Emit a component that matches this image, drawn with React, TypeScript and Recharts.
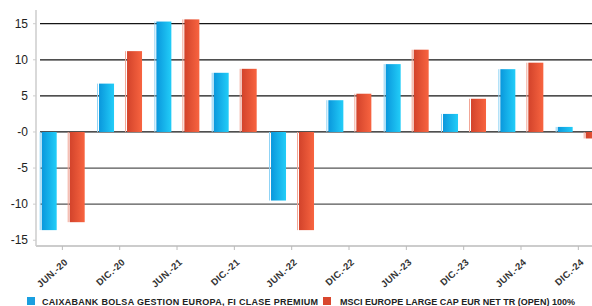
import React from 'react';
import { BarChart, Bar, XAxis, YAxis, CartesianGrid } from 'recharts';

const categories = ['JUN.-20', 'DIC.-20', 'JUN.-21', 'DIC.-21', 'JUN.-22', 'DIC.-22', 'JUN.-23', 'DIC.-23', 'JUN.-24', 'DIC.-24'];
const fundValues = [-13.6, 6.7, 15.3, 8.2, -9.5, 4.4, 9.4, 2.5, 8.7, 0.7];
const indexValues = [-12.5, 11.2, 15.6, 8.75, -13.6, 5.3, 11.4, 4.6, 9.6, -0.9];
const yTicks = [-15, -10, -5, 0, 5, 10, 15];
const seriesNames = ['CAIXABANK BOLSA GESTION EUROPA, FI CLASE PREMIUM', 'MSCI EUROPE LARGE CAP EUR NET TR (OPEN) 100%'];

const data = categories.map((c, i) => ({ name: c, fund: fundValues[i], index: indexValues[i] }));

const FONT = '"Liberation Sans", Arial, sans-serif';

const GradBar = (props: any) => {
  const { x, y, width, height, gradId, edge } = props;
  if (width == null || height == null) return null;
  const top = Math.min(y, y + height);
  const h = Math.abs(height);
  return (
    <g>
      <rect x={x} y={top} width={1} height={h} fill={edge} />
      <rect x={x + 2} y={top} width={Math.max(0, width - 2)} height={h} fill={`url(#${gradId})`} />
    </g>
  );
};

const XTick = (props: any) => {
  const { x, y, payload } = props;
  return (
    <g transform={`translate(${x + 6},${y + 13})`}>
      <g transform="rotate(-42)">
        <text
          x={0}
          y={0}
          textAnchor="end"
          fontSize={9.5}
          fontWeight="bold"
          fill="#333"
          fontFamily={FONT}
          letterSpacing={0.3}
        >
          {payload.value}
        </text>
      </g>
    </g>
  );
};

const GridLine = (props: any) => {
  const { x1, x2, y1, y2, index } = props;
  const v = yTicks[index];
  if (v === undefined || v === yTicks[0]) return null;
  return <line x1={x1 + 4} x2={x2} y1={y1} y2={y2} stroke={v < 0 ? '#555' : '#151515'} strokeWidth={1.3} />;
};

export default function App() {
  return (
    <div style={{ position: 'absolute', left: 0, top: 0, width: 592, height: 306, overflow: 'hidden', background: '#fff' }}>
      <BarChart
        width={607}
        height={306}
        data={data}
        margin={{ top: 10, right: 0, bottom: 0, left: 0 }}
        barSize={17}
        barGap={11}
      >
        <defs>
          <linearGradient id="gBlue" x1="0" y1="0" x2="1" y2="0">
            <stop offset="0%" stopColor="#0a97dc" />
            <stop offset="100%" stopColor="#22cdf8" />
          </linearGradient>
          <linearGradient id="gRed" x1="0" y1="0" x2="1" y2="0">
            <stop offset="0%" stopColor="#d2432b" />
            <stop offset="100%" stopColor="#f86440" />
          </linearGradient>
        </defs>
        <CartesianGrid vertical={false} horizontal={GridLine as any} />
        <XAxis
          dataKey="name"
          height={60}
          padding={{ left: -2.3, right: 0 }}
          interval={0}
          axisLine={{ stroke: '#bbb', strokeWidth: 1.5 }}
          tickLine={{ stroke: '#bbb' }}
          tickSize={4}
          tickMargin={0}
          tick={(p: any) => <XTick {...p} />}
        />
        <YAxis
          width={36}
          domain={[-15.8, 16.9]}
          ticks={yTicks}
          allowDataOverflow
          interval={0}
          axisLine={{ stroke: '#ccc', strokeWidth: 1.5 }}
          tickLine={{ stroke: '#ccc' }}
          tickSize={3}
          tickMargin={5}
          tick={{ fontSize: 12, fill: '#222', fontFamily: FONT }}
          tickFormatter={(v: number) => (v === 0 ? '-0' : String(v))}
        />
        <Bar
          dataKey="fund"
          name={seriesNames[0]}
          isAnimationActive={false}
          shape={(p: any) => <GradBar {...p} gradId="gBlue" edge="#8fd3f5" />}
        />
        <Bar
          dataKey="index"
          name={seriesNames[1]}
          isAnimationActive={false}
          shape={(p: any) => <GradBar {...p} gradId="gRed" edge="#f2a696" />}
        />
      </BarChart>
      <svg width={592} height={306} style={{ position: 'absolute', left: 0, top: 0, pointerEvents: 'none' }}>
        <rect x={27} y={297} width={8} height={8} fill="#1a9fe0" />
        <text x={42} y={305} fontSize={9} fontWeight="bold" fill="#222" fontFamily={FONT} textLength={276} lengthAdjust="spacing">{seriesNames[0]}</text>
        <rect x={323} y={297} width={8} height={8} fill="#d9472e" />
        <text x={340} y={305} fontSize={9} fontWeight="bold" fill="#222" fontFamily={FONT} textLength={235} lengthAdjust="spacing">{seriesNames[1]}</text>
      </svg>
    </div>
  );
}
